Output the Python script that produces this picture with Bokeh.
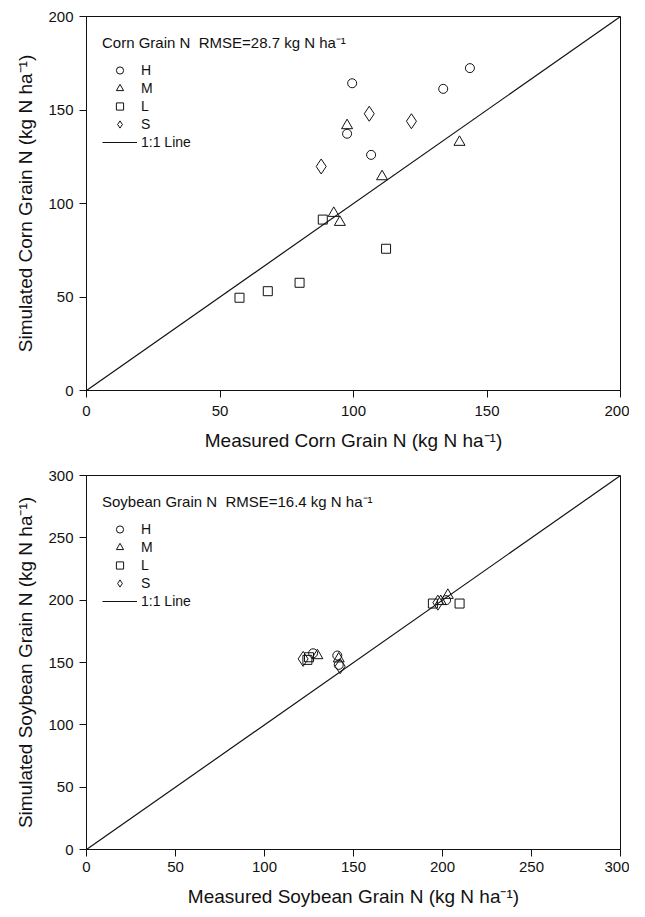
from bokeh.plotting import figure
from bokeh.layouts import column
from bokeh.models import Legend, LegendItem, Range1d, FixedTicker
from bokeh.embed import file_html
from bokeh.resources import INLINE

# ---------------- data ----------------
corn_H_x = [99.5, 143.6, 133.6, 97.6, 106.6]
corn_H_y = [164.3, 172.4, 161.3, 137.3, 126.0]
corn_M_x = [97.6, 139.7, 110.7, 92.6, 94.9]
corn_M_y = [141.7, 132.8, 114.4, 94.8, 90.0]
corn_L_x = [88.5, 112.2, 57.3, 67.9, 79.8]
corn_L_y = [91.4, 75.8, 49.6, 53.1, 57.6]
corn_S_x = [105.9, 121.7, 87.9]
corn_S_y = [148.0, 144.0, 119.8]

soy_H_x = [127.3, 140.9, 141.7, 202.0]
soy_H_y = [157.4, 155.6, 148.1, 200.0]
soy_M_x = [129.7, 141.7, 199.0, 203.0]
soy_M_y = [155.6, 153.0, 199.0, 204.0]
soy_L_x = [124.1, 125.0, 194.6, 209.6]
soy_L_y = [152.1, 154.2, 197.3, 197.3]
soy_S_x = [121.7, 142.5, 197.4]
soy_S_y = [152.9, 147.0, 198.0]

corn_ticks = [0, 50, 100, 150, 200]
soy_ticks = [0, 50, 100, 150, 200, 250, 300]

series_labels = ["H", "M", "L", "S"]
line_label = "1:1 Line"
corn_title = "Corn Grain N  RMSE=28.7 kg N ha\u207b\u00b9"
soy_title = "Soybean Grain N  RMSE=16.4 kg N ha\u207b\u00b9"
corn_xlabel = "Measured Corn Grain N (kg N ha\u207b\u00b9)"
corn_ylabel = "Simulated Corn Grain N (kg N ha\u207b\u00b9)"
soy_xlabel = "Measured Soybean Grain N (kg N ha\u207b\u00b9)"
soy_ylabel = "Simulated Soybean Grain N (kg N ha\u207b\u00b9)"

FONT = "Liberation Sans"
INK = "#111111"

markers = [("circle", 9), ("triangle", 11), ("square", 9), ("diamond", 15)]


def make_panel(xs, ys, ticks, title, xlabel, ylabel, h, bl, br, bt, bb, xstand):
    vmax = ticks[-1]
    p = figure(width=629, height=h, output_backend="svg", toolbar_location=None,
               x_range=Range1d(0, vmax), y_range=Range1d(0, vmax),
               min_border_left=bl, min_border_right=br,
               min_border_top=bt, min_border_bottom=bb)
    p.xgrid.visible = False
    p.ygrid.visible = False
    p.outline_line_color = INK
    p.outline_line_alpha = 1.0
    p.outline_line_width = 1
    for ax, lab in ((p.xaxis[0], xlabel), (p.yaxis[0], ylabel)):
        ax.ticker = FixedTicker(ticks=ticks)
        ax.axis_label = lab
        ax.axis_label_text_font = FONT
        ax.axis_label_text_font_style = "normal"
        ax.axis_label_text_font_size = "19px"
        ax.axis_label_text_color = INK
        ax.major_label_text_font = FONT
        ax.major_label_text_font_size = "15px"
        ax.major_label_text_color = INK
        ax.axis_line_color = INK
        ax.major_tick_line_color = INK
        ax.major_tick_out = 7
        ax.major_tick_in = 0
        ax.minor_tick_line_color = None
    p.xaxis[0].major_label_standoff = xstand
    p.xaxis[0].axis_label_standoff = 11
    p.yaxis[0].major_label_standoff = 6
    p.yaxis[0].axis_label_standoff = 9

    items = []
    for (mk, sz), x, y, lab in zip(markers, xs, ys, series_labels):
        r = p.scatter(x, y, marker=mk, size=sz, fill_color=None,
                      line_color=INK, line_width=1)
        items.append(LegendItem(label=lab, renderers=[r]))
    lr = p.line([0, vmax], [0, vmax], line_color=INK, line_width=1.2)
    items.append(LegendItem(label=line_label, renderers=[lr]))

    leg = Legend(items=items, location="top_left", title=title,
                 title_text_font=FONT, title_text_font_size="15px",
                 title_text_font_style="normal", title_text_color=INK,
                 title_standoff=9,
                 label_text_font=FONT, label_text_font_size="14px",
                 label_text_color=INK, label_standoff=4,
                 glyph_width=35, glyph_height=18, label_height=18,
                 spacing=0, padding=0, margin=16,
                 border_line_color=None, background_fill_alpha=0)
    p.add_layout(leg)
    return p


p1 = make_panel([corn_H_x, corn_M_x, corn_L_x, corn_S_x],
                [corn_H_y, corn_M_y, corn_L_y, corn_S_y],
                corn_ticks, corn_title, corn_xlabel, corn_ylabel,
                456, 84, 9, 16, 66, 8)
p2 = make_panel([soy_H_x, soy_M_x, soy_L_x, soy_S_x],
                [soy_H_y, soy_M_y, soy_L_y, soy_S_y],
                soy_ticks, soy_title, soy_xlabel, soy_ylabel,
                460, 86, 6, 19, 67, 5)

layout = column(p1, p2, spacing=0)
open("out.html", "w").write(file_html(layout, INLINE))
